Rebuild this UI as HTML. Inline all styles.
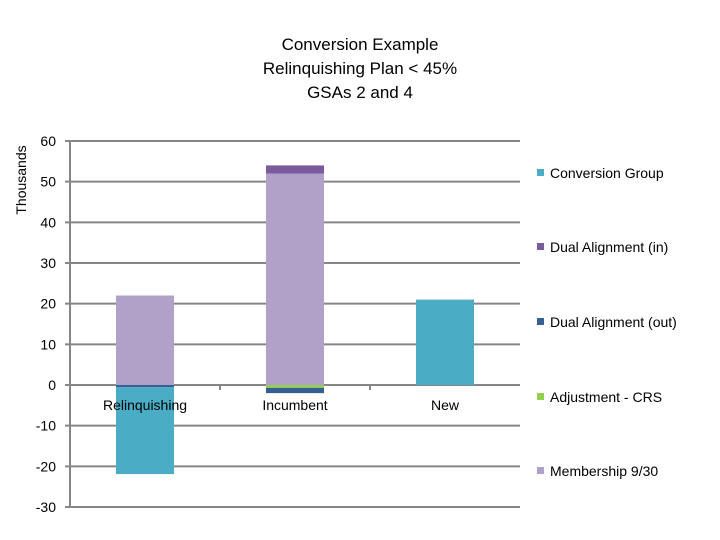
<!DOCTYPE html>
<html><head><meta charset="utf-8">
<style>
html,body{margin:0;padding:0;background:#fff;}
svg{display:block;font-family:"Liberation Sans",Arial,sans-serif;}
</style></head>
<body>
<svg id="chart" width="720" height="540" viewBox="0 0 720 540">
<text x="360" y="50" font-size="17" text-anchor="middle" fill="#000">Conversion Example</text>
<text x="360" y="74" font-size="17" text-anchor="middle" fill="#000">Relinquishing Plan &lt; 45%</text>
<text x="360" y="98" font-size="17" text-anchor="middle" fill="#000">GSAs 2 and 4</text>
<text transform="translate(26,180) rotate(-90)" font-size="14" text-anchor="middle" fill="#000">Thousands</text>
<g id="grid"></g><g id="bars"></g><g id="axes"></g><g id="legend"></g>
</svg>
<script>
const categories = ["Relinquishing","Incumbent","New"];
const seriesNames = ["Membership 9/30","Adjustment - CRS","Dual Alignment (out)","Dual Alignment (in)","Conversion Group"];
const membership = [22, 52, 0];
const adjustment = [0, -0.7, 0];
const dualOut = [-0.5, -1.3, 0];
const dualIn = [0, 2, 0];
const conversion = [-21.4, 0, 21];
const yTicks = [60,50,40,30,20,10,0,-10,-20,-30];
const colors = ["#b1a0c7","#92d050","#366092","#7a5c9e","#4bacc6"];
const legendOrder = [4,3,2,1,0];
const legendY = [173,247,322,397,471];

const NS="http://www.w3.org/2000/svg";
const X0=70, X1=520, YTOP=141, YBOT=507, VMAX=60, VMIN=-30;
const y = v => YTOP + (VMAX - v) * (YBOT - YTOP) / (VMAX - VMIN);
const bandW = (X1 - X0) / categories.length;
const xc = i => X0 + bandW * (i + 0.5);
const barW = 58;
function mk(tag, attrs, parent){const e=document.createElementNS(NS,tag);for(const k in attrs)e.setAttribute(k,attrs[k]);parent.appendChild(e);return e;}
const grid=document.getElementById('grid'), bars=document.getElementById('bars'), axes=document.getElementById('axes'), legend=document.getElementById('legend');

yTicks.forEach(t=>{
  const l=mk('line',{x1:X0-5,x2:X1,y1:y(t),y2:y(t),stroke:'#868686','stroke-width':2},grid);
  
  
  const tx=mk('text',{x:56,y:y(t)+5,'font-size':14,'text-anchor':'end',fill:'#000'},axes);
  tx.textContent=t;
  
  
});
const ax=mk('line',{x1:X0,x2:X0,y1:YTOP,y2:YBOT,stroke:'#868686','stroke-width':2},axes);


for(let i=1;i<categories.length;i++){
  const tk=mk('line',{x1:X0+bandW*i,x2:X0+bandW*i,y1:y(0),y2:y(0)+5,stroke:'#868686','stroke-width':2},axes);
  
  
}
categories.forEach((c,i)=>{
  const t=mk('text',{x:xc(i),y:y(0)+25,'font-size':14,'text-anchor':'middle',fill:'#000'},axes);
  t.textContent=c;
  
  
});

const series=[membership,adjustment,dualOut,dualIn,conversion];
categories.forEach((c,i)=>{
  let pos=0, neg=0;
  series.forEach((s,k)=>{
    const v=s[i]; if(!v) return;
    let a,b;
    if(v>0){a=pos;b=pos+v;pos=b;} else {a=neg;b=neg+v;neg=b;}
    const top=y(Math.max(a,b)), bot=y(Math.min(a,b));
    const r=mk('rect',{x:xc(i)-barW/2,y:top,width:barW,height:Math.max(bot-top,1),fill:colors[k]},bars);
    
    
  });
});

legendOrder.forEach((k,j)=>{
  const ly=legendY[j];
  const r=mk('rect',{x:537,y:ly-4,width:7,height:7,fill:colors[k]},legend);
  
  
  const t=mk('text',{x:550,y:ly+5,'font-size':14,fill:'#000'},legend);
  t.textContent=seriesNames[k];
  
  
});
</script>
</body></html>
